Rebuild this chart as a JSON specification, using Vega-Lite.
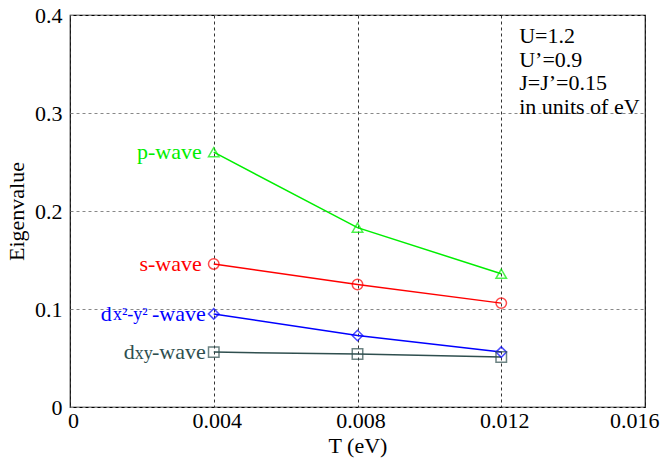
{
  "$schema": "https://vega.github.io/schema/vega-lite/v6.json",
  "width": 575,
  "height": 392,
  "autosize": "none",
  "padding": {"left": 70, "top": 15, "right": 19, "bottom": 57},
  "background": "white",
  "config": {
    "view": {"stroke": "black", "strokeWidth": 1.2},
    "font": "Liberation Serif, Times New Roman, serif",
    "text": {"font": "Liberation Serif, Times New Roman, serif"},
    "axis": {"labelFont": "Liberation Serif, Times New Roman, serif", "titleFont": "Liberation Serif, Times New Roman, serif", "labelColor": "black", "titleColor": "black", "titleFontWeight": "normal", "domain": false, "ticks": false, "gridDash": [3, 3], "gridWidth": 1}
  },
  "layer": [
    {
      "data": {
        "values": [
          {"T": 0.004, "E": 0.260, "series": "p-wave"},
          {"T": 0.008, "E": 0.183, "series": "p-wave"},
          {"T": 0.012, "E": 0.136, "series": "p-wave"},
          {"T": 0.004, "E": 0.146, "series": "s-wave"},
          {"T": 0.008, "E": 0.125, "series": "s-wave"},
          {"T": 0.012, "E": 0.106, "series": "s-wave"},
          {"T": 0.004, "E": 0.095, "series": "dx²-y²-wave"},
          {"T": 0.008, "E": 0.073, "series": "dx²-y²-wave"},
          {"T": 0.012, "E": 0.056, "series": "dx²-y²-wave"},
          {"T": 0.004, "E": 0.056, "series": "dxy-wave"},
          {"T": 0.008, "E": 0.054, "series": "dxy-wave"},
          {"T": 0.012, "E": 0.051, "series": "dxy-wave"}
        ]
      },
      "encoding": {
        "x": {"field": "T", "type": "quantitative", "scale": {"domain": [0, 0.016], "nice": false},
          "axis": {"title": "T (eV)", "values": [0, 0.004, 0.008, 0.012, 0.016], "format": ".3~f", "labelFontSize": 22, "titleFontSize": 22, "labelPadding": 3, "titlePadding": 4, "gridColor": "#333", "labelBound": false, "labelFlush": false,
            "labelAlign": {"condition": {"test": "datum.value >= 0.016", "value": "right"}, "value": "center"},
            "labelOffset": {"condition": {"test": "datum.value >= 0.016", "value": 14}, "value": 3}}},
        "y": {"field": "E", "type": "quantitative", "scale": {"domain": [0, 0.4], "nice": false},
          "axis": {"title": "Eigenvalue", "values": [0, 0.1, 0.2, 0.3, 0.4], "format": ".1~f", "labelFontSize": 22, "titleFontSize": 22, "labelPadding": 8, "titlePadding": 6, "gridColor": "#888"}},
        "color": {"field": "series", "type": "nominal", "legend": null,
          "scale": {"domain": ["p-wave", "s-wave", "dx²-y²-wave", "dxy-wave"], "range": ["#00ee00", "#ff0000", "#0000ff", "#2f4f4f"]}}
      },
      "layer": [
        {"mark": {"type": "line", "strokeWidth": 1.5}, "encoding": {"detail": {"field": "series"}}},
        {"mark": {"type": "point", "filled": false, "strokeWidth": 1.5, "size": 110},
          "encoding": {"shape": {"field": "series", "type": "nominal", "legend": null,
            "scale": {"domain": ["p-wave", "s-wave", "dx²-y²-wave", "dxy-wave"], "range": ["triangle-up", "circle", "diamond", "square"]}}}},
        {"transform": [{"filter": "datum.T == 0.004 && (datum.series == 'p-wave' || datum.series == 's-wave')"}],
          "mark": {"type": "text", "align": "right", "baseline": "middle", "dx": -12, "fontSize": 22},
          "encoding": {"text": {"field": "series"}}},
        {"transform": [{"filter": "datum.T == 0.004 && (datum.series == 'dx²-y²-wave' || datum.series == 'dxy-wave')"}],
          "mark": {"type": "text", "align": "right", "baseline": "middle", "dx": -8, "fontSize": 22, "text": "-wave"}},
        {"transform": [{"filter": "datum.T == 0.004 && datum.series == 'dx²-y²-wave'"}],
          "mark": {"type": "text", "align": "right", "baseline": "middle", "dx": -66, "dy": 1, "fontSize": 18, "text": "x²-y²"}},
        {"transform": [{"filter": "datum.T == 0.004 && datum.series == 'dx²-y²-wave'"}],
          "mark": {"type": "text", "align": "right", "baseline": "middle", "dx": -102, "fontSize": 22, "text": "d"}},
        {"transform": [{"filter": "datum.T == 0.004 && datum.series == 'dxy-wave'"}],
          "mark": {"type": "text", "align": "right", "baseline": "middle", "dx": -61, "dy": 2, "fontSize": 18, "text": "xy"}},
        {"transform": [{"filter": "datum.T == 0.004 && datum.series == 'dxy-wave'"}],
          "mark": {"type": "text", "align": "right", "baseline": "middle", "dx": -79, "fontSize": 22, "text": "d"}}
      ]
    },
    {
      "data": {"values": [{"note": "U=1.2\nU’=0.9\nJ=J’=0.15\nin units of eV"}]},
      "mark": {"type": "text", "align": "left", "baseline": "alphabetic", "lineBreak": "\n", "lineHeight": 23.5, "fontSize": 22, "color": "black"},
      "encoding": {"x": {"datum": 0.0125, "type": "quantitative"}, "y": {"datum": 0.3714, "type": "quantitative"}, "text": {"field": "note", "type": "nominal"}}
    }
  ]
}
